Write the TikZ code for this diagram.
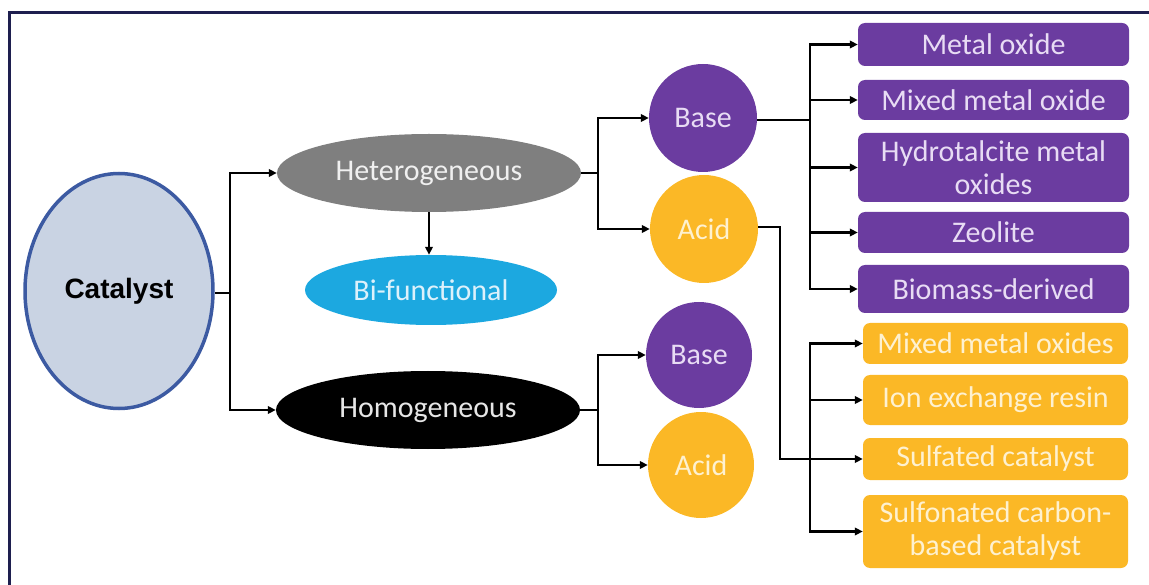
\documentclass[tikz,border=0pt]{standalone}
\usepackage{fontspec}
\setmainfont{Carlito}
\newfontfamily\arialfont{Liberation Sans}
\usetikzlibrary{arrows.meta,shapes.geometric}
\definecolor{framecol}{HTML}{1E1F4F}
\definecolor{catfill}{HTML}{C9D3E3}
\definecolor{catdraw}{HTML}{3C5AA2}
\definecolor{grayfill}{HTML}{7F7F7F}
\definecolor{cyanfill}{HTML}{1CA8E0}
\definecolor{purplefill}{HTML}{6B3CA0}
\definecolor{orangefill}{HTML}{FBB826}
\definecolor{purpletext}{HTML}{E8DCF4}
\definecolor{orangetext}{HTML}{FEF1D0}
\definecolor{graytext}{HTML}{F0F0F0}
\definecolor{cyantext}{HTML}{DDF1FB}
\definecolor{blacktext}{HTML}{E6E6E6}
\tikzset{
  txt/.style={font=\fontsize{30}{33}\selectfont, align=center, inner sep=0pt},
  ell/.style={txt, ellipse, draw=none},
  circ/.style={txt, circle, draw=none, minimum size=108pt},
  pbox/.style={txt, rectangle, rounded corners=7pt, fill=purplefill, text=purpletext, minimum width=271pt},
  obox/.style={txt, rectangle, rounded corners=7pt, fill=orangefill, text=orangetext, minimum width=265pt},
  conn/.style={line width=2.3pt, black},
  arr/.style={conn, -{Triangle[length=8pt,width=7.5pt]}}
}
\begin{document}
\begin{tikzpicture}[x=1pt,y=-1pt]
\useasboundingbox (0,0) rectangle (1149,585);
\begin{scope}
\clip (0,0) rectangle (1149,585);
\draw[framecol, line width=3pt] (9,13) rectangle (1170,610);
\end{scope}
% main nodes
\node[ellipse, draw=catdraw, line width=3.5pt, fill=catfill, minimum width=188pt, minimum height=235pt, inner sep=0pt,
  font=\arialfont\bfseries\fontsize{28}{32}\selectfont] (cat) at (119,291) {Catalyst};
\node[ell, fill=grayfill, text=graytext, minimum width=304pt, minimum height=78pt] (het) at (429,173) {Heterogeneous};
\node[ell, fill=cyanfill, text=cyantext, minimum width=252pt, minimum height=70pt] (bif) at (431,290) {Bi-functional};
\node[ell, fill=black, text=blacktext, minimum width=304pt, minimum height=78pt] (hom) at (428,410) {Homogeneous};
\node[circ, fill=purplefill, text=purpletext] (base1) at (703,118) {Base};
\node[circ, fill=orangefill, text=orangetext] (acid1) at (704,229) {Acid};
\node[circ, fill=purplefill, text=purpletext, minimum size=106pt] (base2) at (699,355) {Base};
\node[circ, fill=orangefill, text=orangetext, minimum size=106pt] (acid2) at (701,465) {Acid};
% purple boxes
\node[pbox, minimum height=43pt] (p1) at (993.5,44.5) {Metal oxide};
\node[pbox, minimum height=40pt] (p2) at (993.5,100) {Mixed metal oxide};
\node[pbox, minimum height=69pt] (p3) at (993.5,167.5) {Hydrotalcite metal\\oxides};
\node[pbox, minimum height=41pt] (p4) at (993.5,232.5) {Zeolite};
\node[pbox, minimum height=48pt] (p5) at (993.5,289) {Biomass-derived};
% orange boxes
\node[obox, minimum height=41pt] (o1) at (995.5,343.5) {Mixed metal oxides};
\node[obox, minimum height=50pt] (o2) at (995.5,400) {Ion exchange resin};
\node[obox, minimum height=42pt] (o3) at (995.5,459) {Sulfated catalyst};
\node[obox, minimum height=73pt] (o4) at (995.5,531.5) {Sulfonated carbon-\\based catalyst};
% junctions
\coordinate (j1) at (230,293);
\coordinate (j2) at (598,173);
\coordinate (j3) at (598,410);
\coordinate (j4) at (810,120);
\coordinate (j5) at (780,227);
\coordinate (j6) at (810,459);
% connectors
\draw[conn] (cat.east |- j1) -- (j1);
\draw[arr] (j1) |- (het.west);
\draw[arr] (j1) |- (hom.west);
\draw[arr] (het.south) -- (het.south |- bif.north);
\draw[conn] (het.east) -- (j2);
\draw[arr] (j2) |- (base1.west);
\draw[arr] (j2) |- (acid1.west);
\draw[conn] (hom.east) -- (j3);
\draw[arr] (j3) |- (base2.west);
\draw[arr] (j3) |- (acid2.west);
\draw[conn] (base1.east |- j4) -- (j4);
\draw[arr] (j4) |- (p1.west);
\draw[arr] (j4) |- (p2.west);
\draw[arr] (j4) |- (p3.west);
\draw[arr] (j4) |- (p4.west);
\draw[arr] (j4) |- (p5.west);
\draw[arr] (acid1.east |- j5) -- (j5) |- (o3.west);
\draw[arr] (j6) |- (o1.west);
\draw[arr] (j6) |- (o2.west);
\draw[arr] (j6) |- (o4.west);
\end{tikzpicture}
\end{document}
